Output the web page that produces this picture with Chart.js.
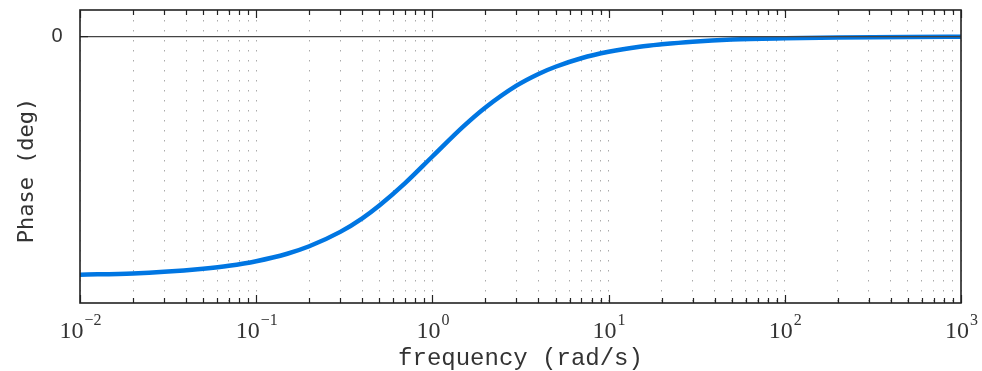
<!DOCTYPE html>
<html>
<head>
<meta charset="utf-8">
<script src="https://cdn.jsdelivr.net/npm/chart.js@4"></script>
<style>
  html, body { margin: 0; padding: 0; background: #fff; }
  #wrap { width: 982px; height: 371px; position: relative; }
</style>
</head>
<body>
<div id="wrap"><canvas id="bode"></canvas></div>
<script>
// frequency (rad/s) and phase (deg)
const frequency = [0.01, 0.02, 0.03, 0.05, 0.07, 0.1, 0.15, 0.2, 0.3, 0.4, 0.5, 0.7, 1,
                   1.5, 2, 3, 4, 5, 7, 10, 15, 20, 30, 50, 100, 200, 500, 1000];
const phase = [-89.4, -88.9, -88.3, -87.1, -86.0, -84.3, -81.5, -78.7, -73.3, -68.2, -63.4, -55.0, -45.0,
               -33.7, -26.6, -18.4, -14.0, -11.3, -8.1, -5.7, -3.8, -2.9, -1.9, -1.1, -0.6, -0.3, -0.1, -0.06];

const decades = [-2, -1, 0, 1, 2, 3];
const minorSteps = [2, 3, 4, 5, 6, 7, 8, 9];
const yTicks = [0];

// tick positions on the log axis
const xTickValues = [];
decades.forEach(e => {
    xTickValues.push(Math.pow(10, e));
    if (e < 3) minorSteps.forEach(m => xTickValues.push(m * Math.pow(10, e)));
});

const points = frequency.map((f, i) => ({ x: f, y: phase[i] }));

// draws frame, ticks, labels and titles like the original figure
const frameAndLabels = {
    id: 'frameAndLabels',
    afterDraw(chart) {
        const { ctx, chartArea: a, scales } = chart;
        const xs = scales.x, ys = scales.y;
        ctx.save();

        // zero line
        const y0 = ys.getPixelForValue(0);
        ctx.strokeStyle = '#444';
        ctx.lineWidth = 1.2;
        ctx.beginPath();
        ctx.moveTo(a.left, y0);
        ctx.lineTo(a.right, y0);
        ctx.stroke();

        // inner ticks top and bottom
        ctx.strokeStyle = '#222';
        ctx.lineWidth = 1.2;
        xTickValues.forEach(v => {
            const px = Math.round(xs.getPixelForValue(v)) + 0.5;
            const major = decades.some(e => Math.abs(Math.pow(10, e) - v) < 1e-12);
            const len = major ? 8 : 5;
            ctx.beginPath();
            ctx.moveTo(px, a.bottom);
            ctx.lineTo(px, a.bottom - len);
            ctx.moveTo(px, a.top);
            ctx.lineTo(px, a.top + len);
            ctx.stroke();
        });
        yTicks.forEach(v => {
            const py = ys.getPixelForValue(v);
            ctx.beginPath();
            ctx.moveTo(a.left, py);
            ctx.lineTo(a.left + 8, py);
            ctx.stroke();
        });

        // frame
        ctx.strokeStyle = '#222';
        ctx.lineWidth = 1.6;
        ctx.strokeRect(a.left, a.top, a.right - a.left, a.bottom - a.top);

        // x tick labels 10^e
        ctx.fillStyle = '#333';
        ctx.textBaseline = 'alphabetic';
        decades.forEach(e => {
            const px = xs.getPixelForValue(Math.pow(10, e));
            const base = '10';
            const exp = e < 0 ? '\u2212' + (-e) : String(e);
            ctx.font = '24px "Liberation Serif", "DejaVu Serif", serif';
            const wb = ctx.measureText(base).width;
            ctx.font = '16px "Liberation Serif", "DejaVu Serif", serif';
            const we = ctx.measureText(exp).width;
            const start = px - (wb + we) / 2;
            ctx.font = '24px "Liberation Serif", "DejaVu Serif", serif';
            ctx.textAlign = 'left';
            ctx.fillText(base, start, 338);
            ctx.font = '16px "Liberation Serif", "DejaVu Serif", serif';
            ctx.fillText(exp, start + wb + 1, 325);
        });

        // y tick label
        ctx.font = '20px "Liberation Sans", Arial, sans-serif';
        ctx.textAlign = 'center';
        ctx.textBaseline = 'middle';
        yTicks.forEach(v => ctx.fillText(String(v), 57, ys.getPixelForValue(v)));

        // axis titles
        ctx.font = '24px "Liberation Mono", "Courier New", monospace';
        ctx.textAlign = 'center';
        ctx.textBaseline = 'alphabetic';
        ctx.fillText('frequency (rad/s)', (a.left + a.right) / 2, 365);

        ctx.save();
        ctx.translate(27, (a.top + a.bottom) / 2 + 14);
        ctx.rotate(-Math.PI / 2);
        ctx.font = '22px "DejaVu Sans Mono", monospace';
        ctx.textBaseline = 'middle';
        ctx.fillText('Phase (deg)', 0, 0);
        ctx.restore();

        ctx.restore();
    }
};

new Chart(document.getElementById('bode').getContext('2d'), {
    type: 'line',
    data: {
        datasets: [{
            label: 'Phase',
            data: points,
            borderColor: 'rgb(0, 118, 226)',
            borderWidth: 4.5,
            pointRadius: 0,
            fill: false,
            cubicInterpolationMode: 'monotone'
        }]
    },
    options: {
        responsive: true,
        maintainAspectRatio: false,
        animation: false,
        layout: { padding: { left: 72, right: 21, top: 10, bottom: 68 } },
        plugins: { legend: { display: false }, tooltip: { enabled: false } },
        scales: {
            x: {
                type: 'logarithmic',
                min: 0.01,
                max: 1000,
                afterBuildTicks: scale => { scale.ticks = xTickValues.map(v => ({ value: v })); },
                ticks: { display: false },
                border: { display: false, dash: [1.5, 8.5] },
                grid: {
                    color: '#aaa',
                    lineWidth: 1,
                    drawTicks: false
                }
            },
            y: {
                min: -100,
                max: 10,
                afterBuildTicks: scale => { scale.ticks = yTicks.map(v => ({ value: v })); },
                ticks: { display: false },
                border: { display: false },
                grid: { display: false }
            }
        }
    },
    plugins: [frameAndLabels]
});
</script>
</body>
</html>
